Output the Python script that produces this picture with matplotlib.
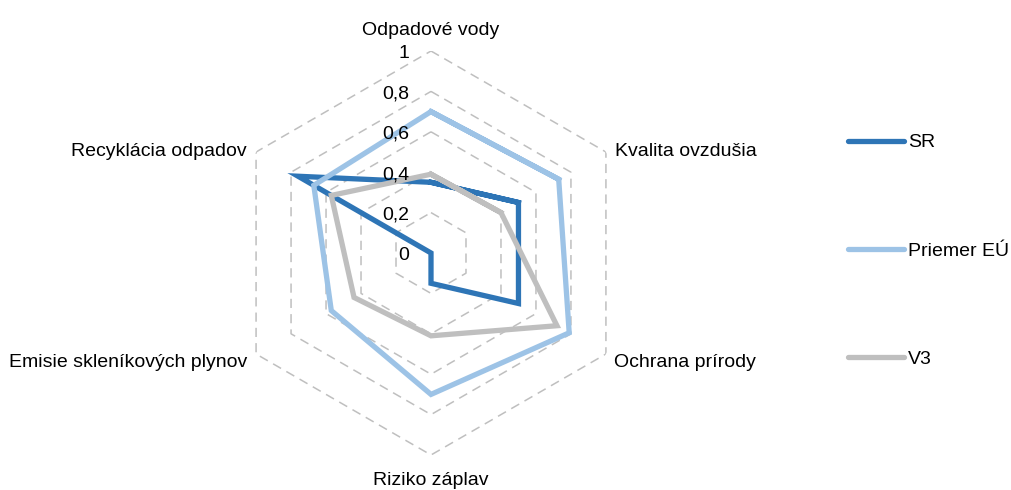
import numpy as np
import matplotlib
matplotlib.use("Agg")
import matplotlib.pyplot as plt

plt.rcParams['font.family'] = ['Liberation Sans', 'DejaVu Sans']

categories = ["Odpadové vody", "Kvalita ovzdušia", "Ochrana prírody",
              "Riziko záplav", "Emisie skleníkových plynov", "Recyklácia odpadov"]
sr = [0.35, 0.50, 0.50, 0.15, 0.00, 0.76]
priemer_eu = [0.70, 0.73, 0.79, 0.70, 0.57, 0.67]
v3 = [0.39, 0.40, 0.72, 0.41, 0.44, 0.57]
series_names = ["SR", "Priemer EÚ", "V3"]
r_ticks = [0.2, 0.4, 0.6, 0.8, 1.0]
r_tick_labels = ["0", "0,2", "0,4", "0,6", "0,8", "1"]

colors = ["#2E75B6", "#9DC3E6", "#BFBFBF"]
grid_color = "#BFBFBF"
FS = 14

W, H = 1011, 490
fig = plt.figure(figsize=(W / 100, H / 100), dpi=100)
cx, cy, R = 431, 253, 202
ax = fig.add_axes([(cx - R) / W, (H - cy - R) / H, 2 * R / W, 2 * R / H],
                  projection='polar')
ax.set_theta_offset(np.pi / 2)
ax.set_theta_direction(-1)
ax.set_ylim(0, 1)
ax.set_xticks([])
ax.set_yticks([])
ax.grid(False)
ax.spines['polar'].set_visible(False)
ax.patch.set_visible(False)

n = len(categories)
angles = np.linspace(0, 2 * np.pi, n, endpoint=False)
loop = np.concatenate([angles, angles[:1]])
closed = np.concatenate([angles, angles[:2]])

# hexagonal grid
for r in r_ticks:
    ax.plot(loop, [r] * len(loop), color=grid_color, lw=1.1,
            linestyle=(0, (6, 4)), zorder=1)

# series
for name, vals, col in zip(series_names, [sr, priemer_eu, v3], colors):
    v = list(vals) + list(vals[:2])
    ax.plot(closed, v, color=col, lw=3.8, solid_joinstyle='miter',
            zorder=3, label=name)

# radial tick labels
for r, lab in zip([0.0] + r_ticks, r_tick_labels):
    ax.annotate(lab, xy=(0, r), xytext=(-22, -7), textcoords='offset pixels',
                ha='right', va='baseline', fontsize=FS, color='#000000', zorder=5)

# category labels
label_offsets = [(0, 16, 'center'), (9, -4, 'left'), (8, -13, 'left'),
                 (0, -30, 'center'), (-9, -13, 'right'), (-9, -4, 'right')]
for ang, cat, (dx, dy, ha) in zip(angles, categories, label_offsets):
    ax.annotate(cat, xy=(ang, 1.0), xytext=(dx, dy), textcoords='offset pixels',
                ha=ha, va='baseline', fontsize=FS, color='#000000',
                annotation_clip=False)

handles, labels = ax.get_legend_handles_labels()
leg = fig.legend(handles, labels, loc='center left',
                 bbox_to_anchor=(848 / W, 1 - 250.7 / H),
                 frameon=False, fontsize=FS, handlelength=2.9,
                 handletextpad=0.2, labelspacing=4.65,
                 borderpad=0, borderaxespad=0)
for line in leg.get_lines():
    line.set_solid_capstyle('round')

fig.savefig("out.png", dpi=100)
